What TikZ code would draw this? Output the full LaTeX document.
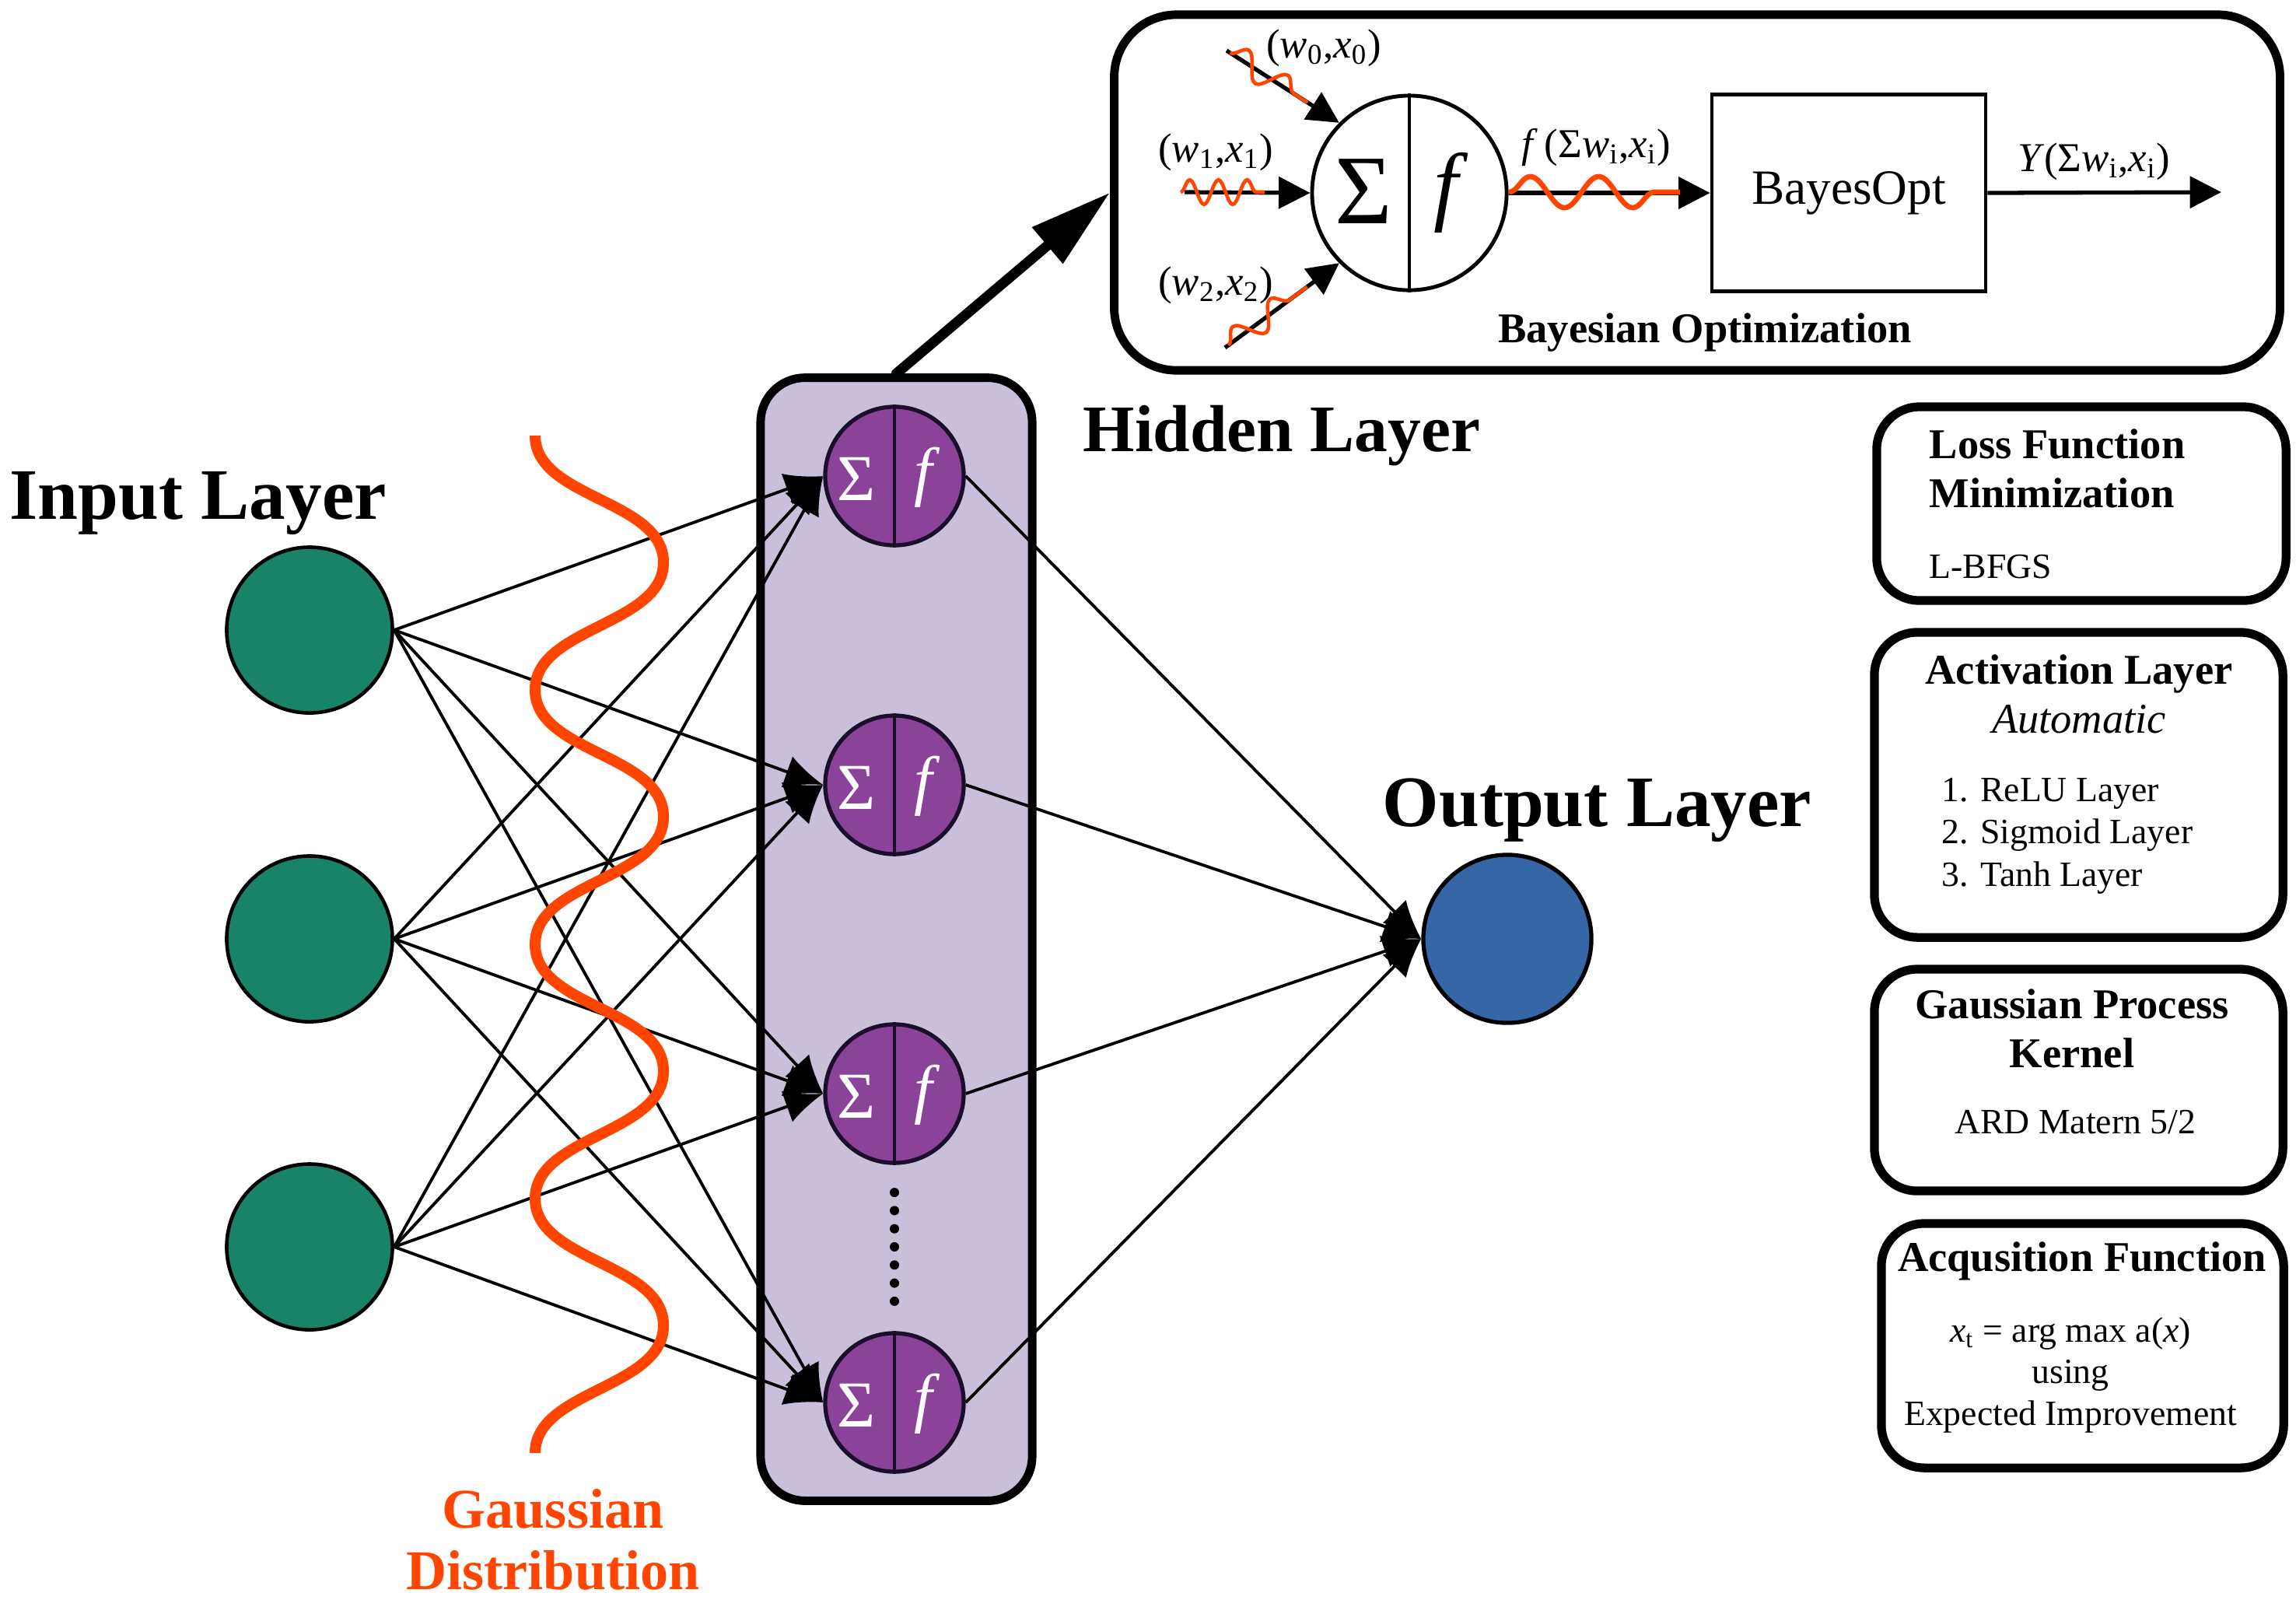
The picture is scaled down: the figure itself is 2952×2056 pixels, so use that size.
\documentclass[tikz,border=0pt]{standalone}
\usepackage{fontspec}
\setmainfont{Liberation Serif}
\usetikzlibrary{positioning}
\usetikzlibrary{calc}
\usetikzlibrary{arrows.meta}
\usetikzlibrary{decorations.pathmorphing}

\definecolor{ingreen}{RGB}{24,131,102}
\definecolor{hidpurple}{RGB}{139,67,153}
\definecolor{hidedge}{RGB}{26,14,43}
\definecolor{boxlav}{RGB}{201,191,218}
\definecolor{outblue}{RGB}{53,102,166}
\definecolor{gaussred}{RGB}{255,69,0}

\tikzset{
	inneuron/.style={circle, draw=black, line width=1.3pt, fill=ingreen, minimum size=2.13cm, inner sep=0pt},
	hidneuron/.style={circle, draw=hidedge, line width=1.5pt, fill=hidpurple, minimum size=1.78cm, inner sep=0pt},
	outneuron/.style={circle, draw=black, line width=1.5pt, fill=outblue, minimum size=2.16cm, inner sep=0pt},
	hidbox/.style={draw=black, fill=boxlav, line width=3.1pt, rounded corners=0.57cm, inner sep=0pt},
	infobox/.style={draw=black, line width=3.2pt, rounded corners=0.55cm, inner sep=0pt},
	layertitle/.style={font=\bfseries\fontsize{26.5}{30}\selectfont, inner sep=0pt},
	boxhead/.style={font=\bfseries\fontsize{15.5}{17.9}\selectfont, inner sep=0pt},
	boxbody/.style={font=\fontsize{13}{15.4}\selectfont, inner sep=0pt},
	mathlabel/.style={font=\fontsize{15}{18}\selectfont, inner sep=0pt},
	symb/.style={text=white, font=\fontsize{24}{27}\selectfont, inner sep=0pt},
	link/.style={draw=black, line width=1.1pt, -{Latex[length=14pt, width=12pt]}},
	bayesarrow/.style={line width=1.5pt, -{Triangle[length=11.5pt, width=11.5pt]}},
	wiggle/.style={draw=gaussred, line width=1.3pt, decorate, decoration={snake, amplitude=4.5pt, segment length=10.5pt}},
	gausswave/.style={draw=gaussred, line width=4pt},
}

\begin{document}
\begin{tikzpicture}[x=0.01cm, y=-0.01cm]
	\useasboundingbox (0,0) rectangle (2952,2056);

	% bayesian optimization panel
	\node[infobox, line width=3.1pt, rounded corners=0.8cm, minimum width=14.98cm, minimum height=4.57cm] (bayesbox) at (2182,247.5) {};
	\node[circle, draw, line width=1.4pt, minimum size=2.5cm, inner sep=0pt] (bn) at (1812,248) {};
	\draw[line width=1.1pt] (bn.north) -- (bn.south);
	\node[font=\fontsize{36}{40}\selectfont, inner sep=0pt] (bnsig) at ($(bn)+(-59,-2)$) {Σ};
	\node[font=\fontsize{32}{36}\selectfont, inner sep=0pt] (bnact) at ($(bn)+(54,0)$) {\textit{f}};
	\node[draw, line width=1.3pt, minimum width=3.52cm, minimum height=2.53cm, font=\fontsize{18}{21}\selectfont] (bayesopt) at (2377,248) {BayesOpt};
	\coordinate (w0) at (1577,65);
	\coordinate (w1) at (1523,247);
	\coordinate (w2) at (1575,447);
	\coordinate (yout) at (2856,247);
	\draw[bayesarrow] (w0) -- (bn.135);
	\draw[bayesarrow] (w1) -- (bn.west);
	\draw[bayesarrow] (w2) -- (bn.-135);
	\draw[bayesarrow] (bn.east) -- (bayesopt.west);
	\draw[bayesarrow] (bayesopt.east) -- (yout);
	\draw[wiggle, decoration={snake, amplitude=4.5pt, segment length=17pt}] ($(w0)!0.03!(bn.135)$) -- ($(w0)!0.72!(bn.135)$);
	\draw[wiggle] (1518,247) -- (1626,247);
	\draw[wiggle, decoration={snake, amplitude=4.5pt, segment length=17pt}] ($(w2)!0.03!(bn.-135)$) -- ($(w2)!0.72!(bn.-135)$);
	\draw[wiggle, line width=1.9pt, decoration={snake, amplitude=5.7pt, segment length=25pt}] (1940,247) -- (2160,247);
	\node[mathlabel] (w0lab) at (1702,62) {(\textit{w}\textsubscript{0},\textit{x}\textsubscript{0})};
	\node[mathlabel] (w1lab) at (1563,196) {(\textit{w}\textsubscript{1},\textit{x}\textsubscript{1})};
	\node[mathlabel] (w2lab) at (1563,367) {(\textit{w}\textsubscript{2},\textit{x}\textsubscript{2})};
	\node[mathlabel] (flab) at (2052,190) {\textit{f}\,(Σ\textit{w}\textsubscript{i},\textit{x}\textsubscript{i})};
	\node[mathlabel] (ylab) at (2692,208) {\textit{Y}(Σ\textit{w}\textsubscript{i},\textit{x}\textsubscript{i})};
	\node[boxhead, anchor=base] (bayeslab) at (2192,440) {Bayesian Optimization};

	% network
	\node[hidbox, minimum width=3.49cm, minimum height=14.43cm] (hidbox) at (1152.5,1207.5) {};
	\foreach \i/\y in {1/810,2/1207,3/1603}
		\node[inneuron] (in\i) at (398,\y) {};
	\foreach \i/\y in {1/612,2/1009,3/1406,4/1803}{
		\node[hidneuron] (hid\i) at (1150,\y) {};
		\draw[hidedge, line width=0.9pt] (hid\i.north) -- (hid\i.south);
		\node[symb] (sig\i) at ($(hid\i)+(-49,4)$) {Σ};
		\node[symb] (act\i) at ($(hid\i)+(42,2)$) {\textit{f}};
	}
	\node[outneuron] (out) at (1938,1207) {};
	\foreach \i in {1,2,3}
		\foreach \j in {1,...,4}
			\draw[link] (in\i.east) -- (hid\j.west);
	\foreach \j in {1,...,4}
		\draw[link] (hid\j.east) -- (out.west);
	\foreach \k in {0,...,6}
		\fill ($(hid3)!{0.32+0.0587*\k}!(hid4)$) circle (0.06cm);
	\draw[gausswave] (688,560) \foreach \k in {0,...,3}{ .. controls (688,560+327*\k+81) and (853,560+327*\k+82) .. (853,560+327*\k+163) .. controls (853,560+327*\k+244) and (688,560+327*\k+246) .. (688,560+327*\k+327)};
	\draw[line width=3.7pt, line cap=round, -{Triangle[length=30pt, width=16.5pt]}] (hidbox.north) -- (bayesbox.west);

	\node[layertitle, anchor=base west] (inlabel) at (12,667) {Input Layer};
	\node[layertitle, font=\bfseries\fontsize{24.3}{28}\selectfont, anchor=base west] (hidlabel) at (1392,580) {Hidden Layer};
	\node[layertitle, anchor=base west] (outlabel) at (1777,1062) {Output Layer};
	\node[text=gaussred, font=\bfseries\fontsize{20.5}{22.2}\selectfont, align=center, anchor=base] (gausslabel) at (711,2043) {Gaussian\\Distribution};

	% settings boxes
	\node[infobox, minimum width=5.26cm, minimum height=2.49cm] (lossbox) at (2676,647.5) {};
	\node[boxhead, anchor=base west, align=left] (losshead) at (2480,652) {Loss Function\\Minimization};
	\node[boxbody, anchor=base west] (lossbody) at (2480,743) {L-BFGS};

	\node[infobox, minimum width=5.25cm, minimum height=3.92cm] (actbox) at (2672.5,1009) {};
	\node[boxhead, anchor=base] (acthead) at (2673,879) {Activation Layer};
	\node[font=\itshape\fontsize{15.5}{17.9}\selectfont, inner sep=0pt, anchor=base] (actmode) at (2673,942) {Automatic};
	\node[boxbody, font=\fontsize{13}{15.5}\selectfont, anchor=base west, align=left] (actlist) at (2496,1139) {1. ReLU Layer\\2. Sigmoid Layer\\3. Tanh Layer};

	\node[infobox, minimum width=5.25cm, minimum height=2.85cm] (gpbox) at (2672.5,1388.5) {};
	\node[boxhead, anchor=base, align=center] (gphead) at (2664,1372) {Gaussian Process\\Kernel};
	\node[boxbody, anchor=base] (gpbody) at (2668,1457) {ARD Matern 5/2};

	\node[infobox, minimum width=5.17cm, minimum height=3.14cm] (acqbox) at (2677.5,1730) {};
	\node[boxhead, anchor=base] (acqhead) at (2677,1634) {Acqusition Function};
	\node[boxbody, font=\fontsize{13}{15.1}\selectfont, anchor=base, align=center] (acqbody) at (2662,1832) {\textit{x}\textsubscript{t} = arg max a(\textit{x})\\using\\Expected Improvement};
\end{tikzpicture}
\end{document}
